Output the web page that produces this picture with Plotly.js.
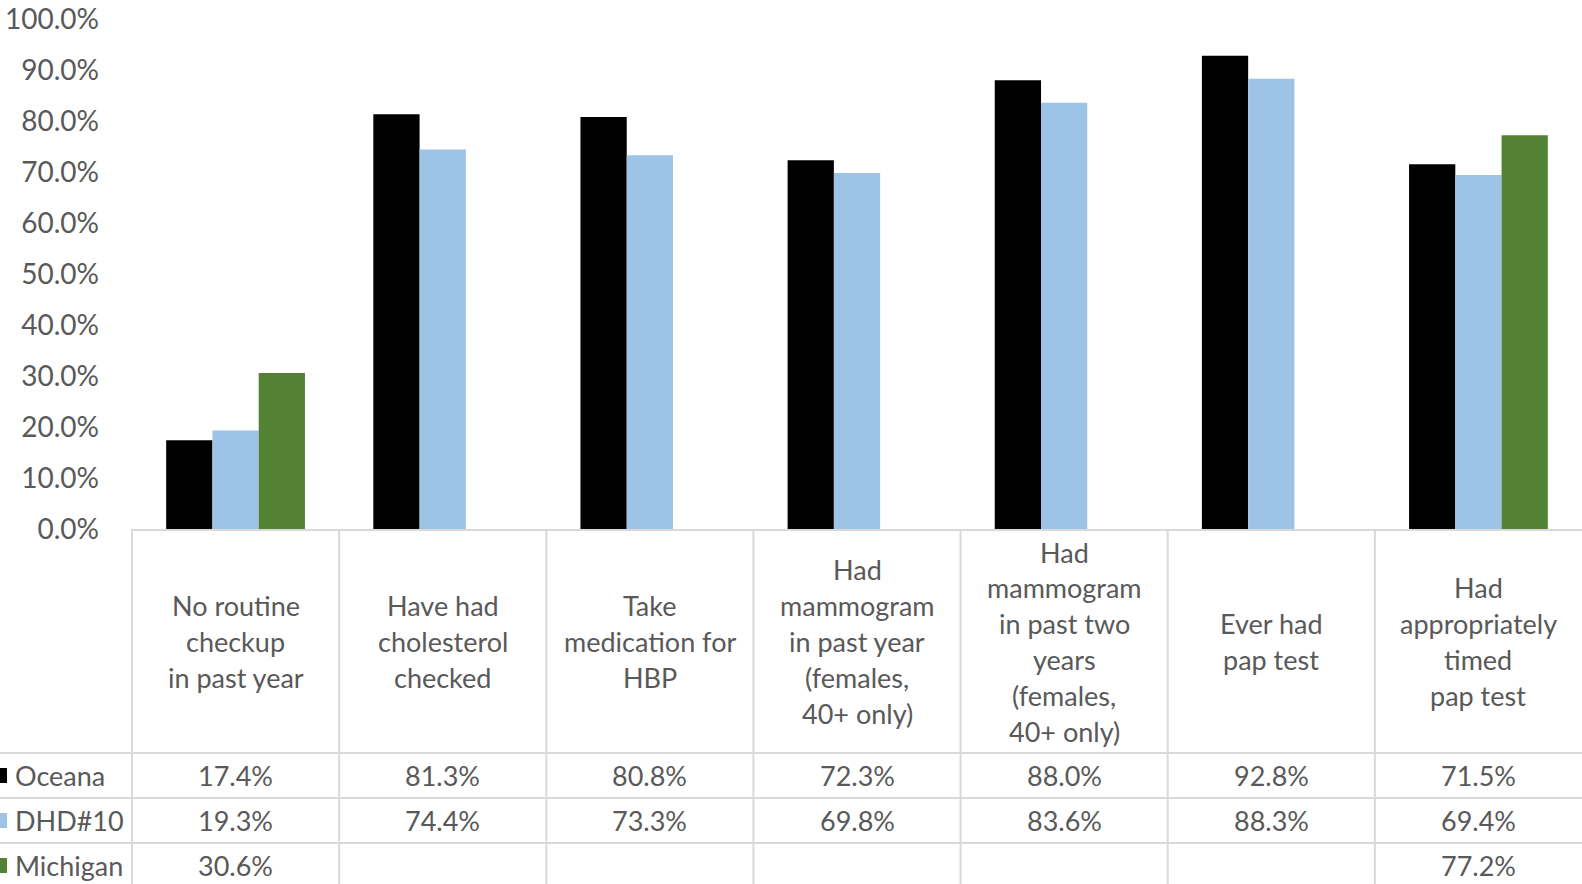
<!DOCTYPE html>
<html>
<head>
<meta charset="utf-8">
<script src="https://cdn.plot.ly/plotly-3.0.1.min.js"></script>
<style>html,body{margin:0;padding:0;background:#fff;}#chart{width:1582px;height:884px;}</style>
</head>
<body>
<div id="chart"></div>
<script>
// ---- data ----
var categories = ["No routine checkup in past year","Have had cholesterol checked","Take medication for HBP","Had mammogram in past year (females, 40+ only)","Had mammogram in past two years (females, 40+ only)","Ever had pap test","Had appropriately timed pap test"];
var categoryLines = [
  ["No routine","checkup","in past year"],
  ["Have had","cholesterol","checked"],
  ["Take","medication for","HBP"],
  ["Had","mammogram","in past year","(females,","40+ only)"],
  ["Had","mammogram","in past two","years","(females,","40+ only)"],
  ["Ever had","pap test"],
  ["Had","appropriately","timed","pap test"]
];
var seriesNames = ["Oceana","DHD#10","Michigan"];
var oceana   = [17.4, 81.3, 80.8, 72.3, 88.0, 92.8, 71.5];
var dhd10    = [19.3, 74.4, 73.3, 69.8, 83.6, 88.3, 69.4];
var michigan = [30.6, null, null, null, null, null, 77.2];
var seriesColors = ["#000000","#9DC3E6","#548235"];

// ---- layout geometry (pixels) ----
var W = 1582, H = 884;
var mL = 131, mR = 0, mT = 19, mB = 355;
var plotW = W - mL - mR, plotH = H - mT - mB;
var axisY = H - mB;              // 529
var headerBottom = 753, rowH = 45;
var txtColor = "#595959", lineColor = "#D9D9D9";
var FONT = "Lato, 'Open Sans', sans-serif";
var FS = 27;

function py(p){ return (axisY - p) / plotH; }
function px(p){ return (p - mL) / plotW; }

var allSeries = [oceana, dhd10, michigan];
var traces = allSeries.map(function(v, i){
  return {type:"bar", x:categories, y:v, name:seriesNames[i],
          marker:{color:seriesColors[i]}, hoverinfo:"none"};
});

var shapes = [], annotations = [];
var n = categories.length;
// vertical table lines at category boundaries
for (var k = 0; k < n; k++){
  shapes.push({type:"line", xref:"x", yref:"paper", x0:k-0.5, x1:k-0.5,
               y0:0, y1:py(H+10), line:{color:lineColor, width:2}});
}
// horizontal row lines
for (var r = 0; r < 3; r++){
  var yy = py(headerBottom + r*rowH);
  shapes.push({type:"line", xref:"paper", yref:"paper", x0:px(-5), x1:px(W+5),
               y0:yy, y1:yy, line:{color:lineColor, width:2}});
}
// header text
var headerCenter = (axisY + headerBottom)/2 + 0.5, lineSp = 35.8;
categoryLines.forEach(function(lines, ci){
  lines.forEach(function(t, li){
    var yP = headerCenter + (li - (lines.length-1)/2)*lineSp;
    annotations.push({xref:"x", yref:"paper", x:categories[ci], y:py(yP),
      text:t, showarrow:false, xanchor:"center", yanchor:"middle",
      font:{family:FONT, size:FS, color:txtColor}});
  });
});
// data rows
allSeries.forEach(function(vals, si){
  var yC = headerBottom + si*rowH + rowH/2;
  // legend key
  shapes.push({type:"rect", xref:"paper", yref:"paper", x0:px(-8), x1:px(7),
               y0:py(yC+7.5), y1:py(yC-7.5), fillcolor:seriesColors[si], line:{width:0}});
  annotations.push({xref:"paper", yref:"paper", x:px(13), y:py(yC),
    text:seriesNames[si], showarrow:false, xanchor:"left", yanchor:"middle",
    font:{family:FONT, size:FS, color:txtColor}});
  vals.forEach(function(v, ci){
    if (v === null) return;
    annotations.push({xref:"x", yref:"paper", x:categories[ci], y:py(yC),
      text:v.toFixed(1)+"%", showarrow:false, xanchor:"center", yanchor:"middle",
      font:{family:FONT, size:FS, color:txtColor}});
  });
});

var layout = {
  width:W, height:H,
  margin:{l:mL, r:mR, t:mT, b:mB, pad:0},
  paper_bgcolor:"#fff", plot_bgcolor:"#fff",
  showlegend:false,
  barmode:"group", bargap:0.33, bargroupgap:0,
  font:{family:FONT, color:txtColor},
  xaxis:{type:"category", showticklabels:false, showgrid:false, zeroline:false,
         showline:true, linecolor:lineColor, linewidth:2, ticks:"", fixedrange:true},
  yaxis:{range:[0,100], dtick:10, tick0:0, tickformat:".1f", ticksuffix:"%",
         showgrid:false, zeroline:false, showline:false, ticks:"",
         ticklabelstandoff:31, tickfont:{family:FONT, size:28, color:txtColor}, fixedrange:true},
  shapes:shapes, annotations:annotations
};

Plotly.newPlot("chart", traces, layout, {displayModeBar:false, staticPlot:true});
</script>
</body>
</html>
